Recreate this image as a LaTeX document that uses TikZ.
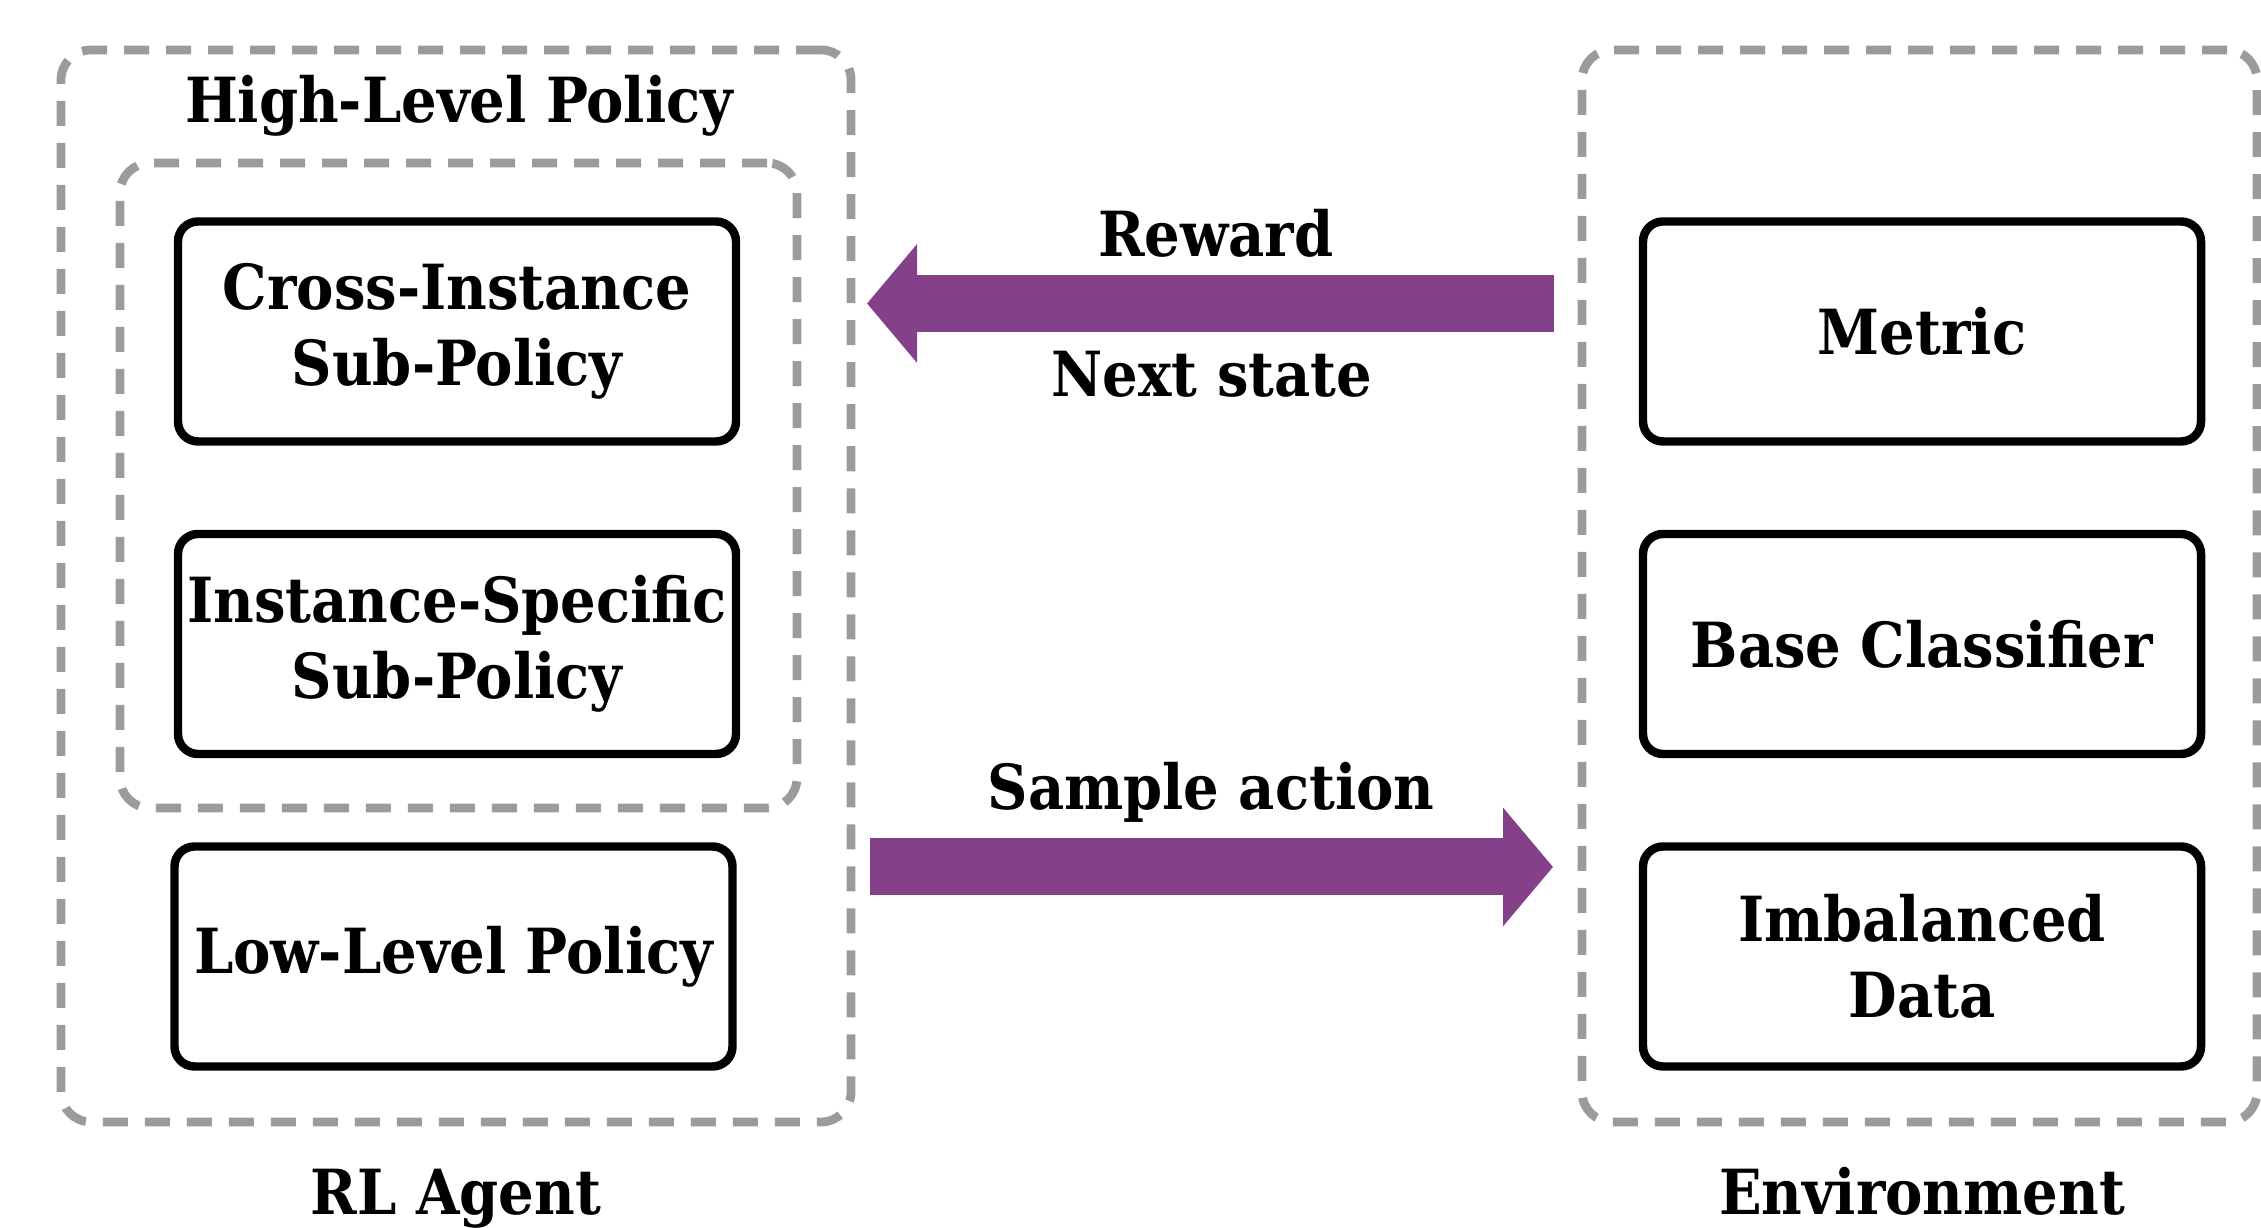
\documentclass[tikz,border=0pt]{standalone}
\usepackage{fontspec}
\setmainfont{DejaVu Serif Condensed}
\usetikzlibrary{arrows.meta}

\definecolor{rlpurple}{RGB}{132,64,136}
\definecolor{rlgray}{RGB}{155,155,155}

\tikzset{
  module/.style={draw, line width=2.4pt, rounded corners=0.2cm, minimum width=5.58cm, minimum height=2.2cm, align=center, inner sep=0pt},
  group/.style={draw=rlgray, line width=2.5pt, rounded corners=0.3cm, dash pattern=on 0.25cm off 0.17cm, inner sep=0pt},
  flow/.style={rlpurple, line width=0.57cm, -{Triangle[length=0.5cm, width=1.16cm]}},
}

\begin{document}
\begin{tikzpicture}[font=\fontsize{17.7}{21.5}\selectfont\bfseries]
\useasboundingbox (0,0) rectangle (22.61,12.28);

% Containers
\node[group, minimum width=7.9cm, minimum height=10.72cm] (agent) at (4.56,6.42) {};
\node[group, minimum width=6.77cm, minimum height=6.45cm] (high) at (4.585,7.425) {};
\node[group, minimum width=6.75cm, minimum height=10.72cm] (env) at (19.195,6.42) {};

% Agent side
\node[module] (cross) at (4.57,8.965) {Cross-Instance\\Sub-Policy};
\node[module] (inst) at (4.57,5.84) {Instance-Specific\\Sub-Policy};
\node[module] (low) at (4.535,2.715) {Low-Level Policy};

% Environment side
\node[module] (metric) at (19.22,8.965) {Metric};
\node[module] (clf) at (19.22,5.84) {Base Classifier};
\node[module] (data) at (19.22,2.715) {Imbalanced\\Data};

% Titles
\node[anchor=base] (hlp) at (4.59,11.05) {High-Level Policy};
\node[anchor=base] (agentlbl) at (4.56,0.13) {RL Agent};
\node[anchor=base] (envlbl) at (19.22,0.13) {Environment};

% Flows
\coordinate (rwS) at (15.54,9.245);
\coordinate (rwE) at (8.67,9.245);
\coordinate (saS) at (8.70,3.61);
\coordinate (saE) at (15.53,3.61);
\draw[flow] (rwS) -- (rwE);
\draw[flow] (saS) -- (saE);

\node[anchor=base] (reward) at (12.16,9.71) {Reward};
\node[anchor=base] (next) at (12.12,8.31) {Next state};
\node[anchor=base] (sample) at (12.11,4.18) {Sample action};
\end{tikzpicture}
\end{document}
